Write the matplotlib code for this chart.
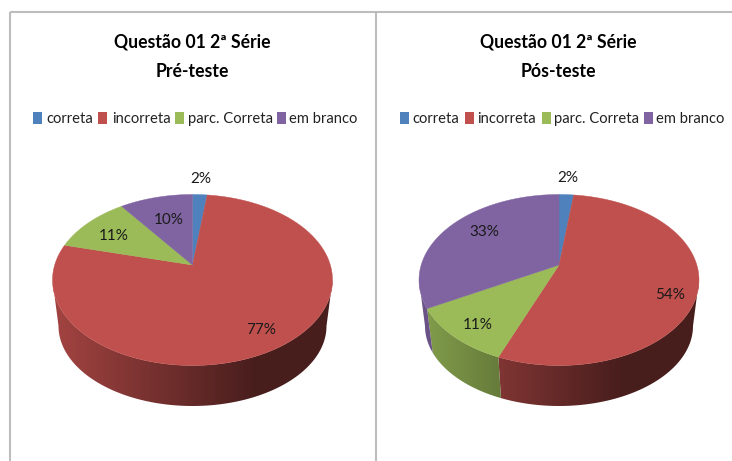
import numpy as np
import matplotlib
matplotlib.use("Agg")
import matplotlib.pyplot as plt
from matplotlib.patches import Polygon, Rectangle
from matplotlib.colors import to_rgb

categories = ["correta", "incorreta", "parc. Correta", "em branco"]
pre_values = [2, 77, 11, 10]
pos_values = [2, 54, 11, 33]
titles = ["Questão 01 2ª Série\nPré-teste", "Questão 01 2ª Série\nPós-teste"]
colors = ["#4F81BD", "#C0504D", "#9BBB59", "#8064A2"]

FONT = "Lato"
fig = plt.figure(figsize=(7.32, 4.61), dpi=100)
ax = fig.add_axes([0, 0, 1, 1])
ax.axis("off")

# frame
for xs, ys in [([9.5, 9.5], [461, 12]), ([9.5, 732], [12, 12]), ([375.5, 375.5], [12, 461])]:
    ax.plot(xs, ys, color="#BDBDBD", lw=1.5, solid_capstyle="butt")

RY = 85.5; RX = 140.0; CY = 280.0; APEX = 15.0
c = -APEX * 2 / (2 * RY)
d = RX * np.sqrt(1 - c * c)
WALL_A = np.arccos(-APEX / RY)
WALL_B = 2 * np.pi - WALL_A


def top_pt(t, cx, r=1.0):
    u, v = r * np.sin(t), -r * np.cos(t)
    w = 1 + c * v
    return cx + d * u / w, CY + (RY * v - APEX) / w


def bottom_pt(t, cx):
    x, y = top_pt(t, cx)
    return cx + (x - cx) * 134 / RX, 326 + (y - CY) * 80 / RY


def draw_pie(values, cx):
    vals = np.asarray(values, float)
    edges = np.concatenate([[0], np.cumsum(vals)]) / vals.sum() * 2 * np.pi
    # side wall: horizontal gradient image clipped to the wall outline
    xs = np.linspace(cx - RX, cx + RX, 280)
    k = np.clip(0.85 - 0.47 * (xs - (cx - RX)) / 200, 0.38, 1)
    for i, col in enumerate(colors):
        a, b = max(edges[i], WALL_A), min(edges[i + 1], WALL_B)
        if b <= a:
            continue
        ts = np.linspace(a, b, 200)
        outline = [top_pt(t, cx) for t in ts] + [bottom_pt(t, cx) for t in ts[::-1]]
        poly = Polygon(outline, closed=True, fc="none", ec="none", transform=ax.transData)
        ax.add_patch(poly)
        grad = np.outer(k, to_rgb(col))[None, :, :]
        im = ax.imshow(grad, extent=(cx - RX, cx + RX, 420, 260), aspect="auto",
                       interpolation="bilinear", zorder=2)
        im.set_clip_path(poly)
    # top face
    for i, col in enumerate(colors):
        ts = np.linspace(edges[i], edges[i + 1], 120)
        pts = [top_pt(t, cx) for t in ts] + [top_pt(0, cx, 0.0)]
        ax.add_patch(Polygon(pts, closed=True, fc=col, ec=col, lw=0.3, zorder=3))


def draw_legend(sw_x, tx_x):
    for name, col, sx, tx in zip(categories, colors, sw_x, tx_x):
        ax.add_patch(Rectangle((sx, 112), 9, 12, fc=col, ec="none", zorder=3))
        ax.text(tx, 118.5, name, fontsize=10.6, family=FONT, color="#222222", va="center", ha="left", zorder=4)


draw_pie(pre_values, 192.5)
draw_pie(pos_values, 559.0)
draw_legend([33, 98, 175, 277], [46, 112, 188, 289])
draw_legend([400, 465, 542, 644], [412, 477, 554, 656])

ax.text(192, 57, titles[0], fontsize=12.7, fontweight="bold", family=FONT, color="black",
        ha="center", va="center", linespacing=1.9)
ax.text(558, 57, titles[1], fontsize=12.7, fontweight="bold", family=FONT, color="black",
        ha="center", va="center", linespacing=1.9)

label_xy_pre = [(201, 179), (261, 330), (114, 236), (169, 220)]
label_xy_pos = [(568, 178), (670, 295), (478, 325), (484, 232)]
for vals, xy in [(pre_values, label_xy_pre), (pos_values, label_xy_pos)]:
    for v, (x, y) in zip(vals, xy):
        ax.text(x, y, f"{v}%", fontsize=11, family=FONT, color="#1a1a1a", ha="center", va="center", zorder=5)

ax.set_xlim(0, 732)
ax.set_ylim(461, 0)
fig.savefig("out.png", dpi=100, facecolor="white")
